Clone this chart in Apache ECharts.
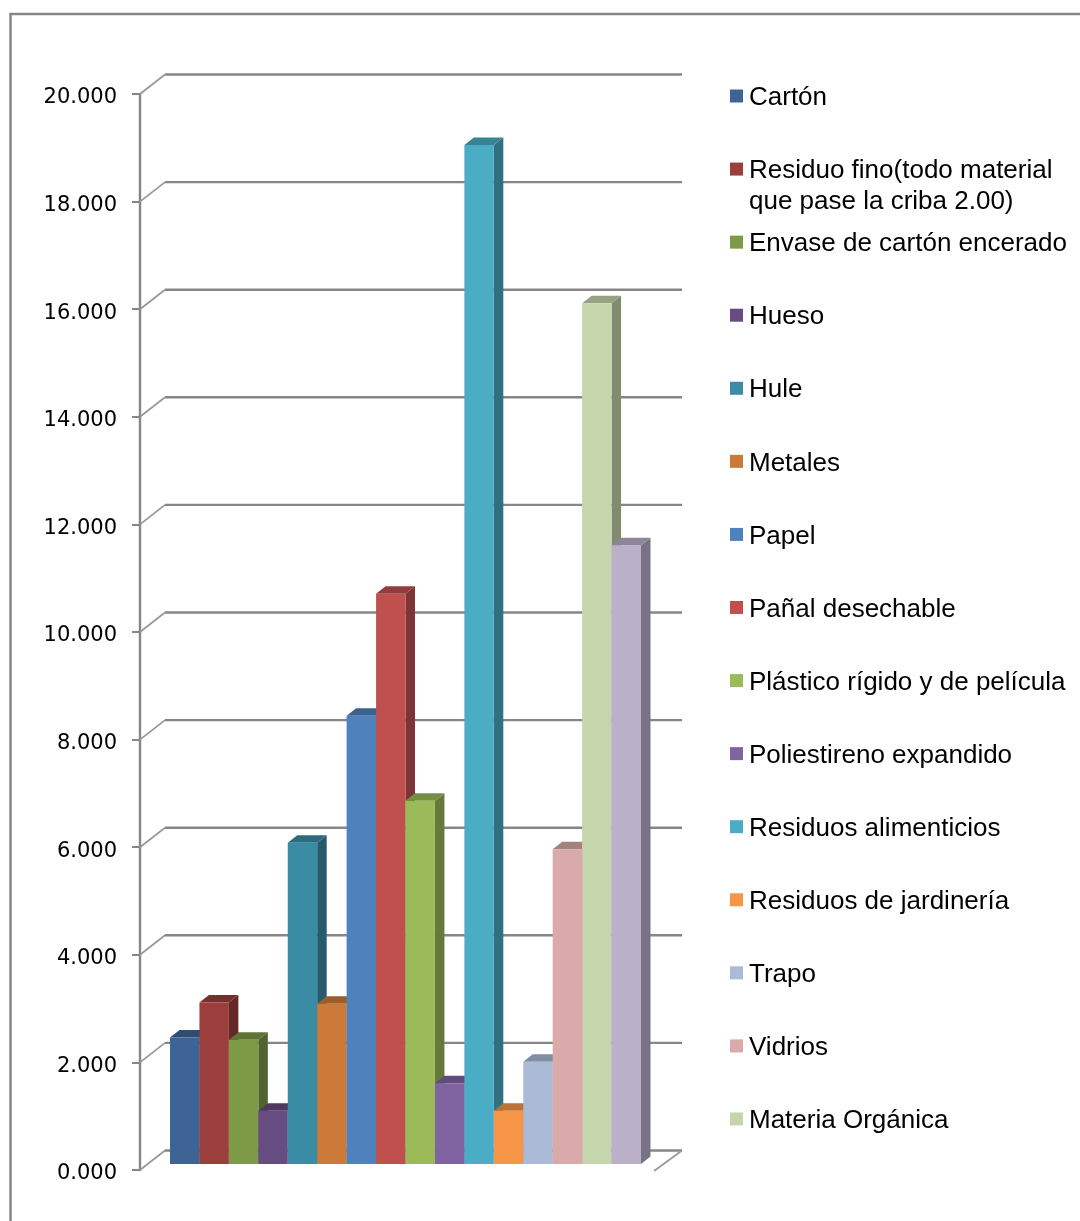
<!DOCTYPE html>
<html><head><meta charset="utf-8">
<style>html,body{margin:0;padding:0;background:#fff}#c{width:1080px;height:1221px}</style>
<script src="https://cdn.jsdelivr.net/npm/echarts@6/dist/echarts.min.js"></script>
</head><body><div id="c"></div>
<script>
const names = ["Cartón","Residuo fino(todo material","Envase de cartón encerado","Hueso","Hule","Metales","Papel","Pañal desechable","Plástico rígido y de película","Poliestireno expandido","Residuos alimenticios","Residuos de jardinería","Trapo","Vidrios","Materia Orgánica","Otros"];
const values = [2.35,3.0,2.31,0.99,5.97,2.98,8.33,10.6,6.75,1.5,18.94,0.99,1.9,5.85,16.0,11.5];
const colors = ["#3E6496","#9C3E3C","#7D9A46","#664C80","#3A8CA4","#CC7A38","#4F81BD","#C0504D","#9BBB59","#8064A2","#4BACC6","#F79646","#AABAD7","#D9AAA9","#C6D6AC","#BAB0C9"];
const yTicks = [0,2,4,6,8,10,12,14,16,18,20];
const category = [""];
const legendNames = names.slice(0,15);
const legendLine2 = "que pase la criba 2.00)";

const GREY="#868686", WALL_X=25, WALL_Y=19.5, FRONT_X=7, FRONT_Y=6, DEPTH_X=9.5, DEPTH_Y=7.5, FILL=0.911;
const FONT_L='"Liberation Sans"', FONT_A='"DejaVu Sans"';

function shade(hex,f){const n=parseInt(hex.slice(1),16);
  return 'rgb('+[(n>>16)&255,(n>>8)&255,n&255].map(c=>Math.round(c*f)).join(',')+')';}

function wall(params,api){
  const v=api.value(0);
  const cs=params.coordSys;
  const p=api.coord([0,v]);
  const x0=cs.x, x1=cs.x+cs.width, y=p[1];
  return {type:'group',silent:true,children:[
    {type:'line',shape:{x1:x0,y1:y,x2:x0+WALL_X,y2:y-WALL_Y},style:{stroke:'#999',lineWidth:1.8}},
    {type:'line',shape:{x1:x0+WALL_X,y1:y-WALL_Y,x2:x1+WALL_X,y2:y-WALL_Y},style:{stroke:GREY,lineWidth:2.4}}
  ]};
}
function floorEdge(params,api){
  const cs=params.coordSys, p=api.coord([0,0]);
  const x1=cs.x+cs.width;
  return {type:'line',silent:true,shape:{x1:x1-3,y1:p[1]+1,x2:x1+WALL_X,y2:p[1]-WALL_Y},style:{stroke:'#999',lineWidth:1.8}};
}
function bar(i){return function(params,api){
  const v=api.value(1), top=api.coord([0,v]), base=api.coord([0,0]);
  const w=api.size([1,0])[0]*FILL/names.length;
  const x=top[0]-w*names.length/2+i*w+FRONT_X, yt=top[1]-FRONT_Y, yb=base[1]-FRONT_Y;
  const c=colors[i];
  return {type:'group',children:[
    {type:'polygon',shape:{points:[[x+w,yb],[x+w+DEPTH_X,yb-DEPTH_Y],[x+w+DEPTH_X,yt-DEPTH_Y],[x+w,yt]]},style:{fill:shade(c,0.65)}},
    {type:'polygon',shape:{points:[[x,yt],[x+DEPTH_X,yt-DEPTH_Y],[x+w+DEPTH_X,yt-DEPTH_Y],[x+w,yt]]},style:{fill:shade(c,0.76)}},
    {type:'rect',shape:{x:x,y:yt,width:w,height:yb-yt},style:{fill:c}}
  ]};
};}

const series=[
  {type:'custom',name:'_wall',coordinateSystem:'cartesian2d',z:1,silent:true,renderItem:wall,
   encode:{y:0},data:yTicks.map(t=>[t]),clip:false},
  {type:'custom',name:'_floor',coordinateSystem:'cartesian2d',z:1,silent:true,renderItem:floorEdge,
   data:[[0,0]],clip:false}
];
names.forEach((n,i)=>series.push({type:'custom',name:n,coordinateSystem:'cartesian2d',z:2+i,
  renderItem:bar(i),itemStyle:{color:colors[i]},encode:{x:0,y:1},data:[[0,values[i]]],clip:false}));

const STEP=73.07, FIRST=96, LH=30;
const legend=legendNames.map((n,i)=>({data:[n],orient:'vertical',left:730,top:FIRST+i*STEP-LH/2,padding:0,
  itemWidth:13,itemHeight:13,icon:'rect',selectedMode:false,
  formatter:'{a|{name}}',
  textStyle:{rich:{a:{fontFamily:FONT_L,fontSize:26,color:'#000',lineHeight:LH,padding:[4,0,0,1]}}}}));

const chart=echarts.init(document.getElementById('c'),null,{renderer:'canvas'});
chart.setOption({
  animation:false,backgroundColor:'#fff',
  color:colors,
  legend:legend,
  grid:{left:140,right:423,top:94,bottom:51,containLabel:false},
  xAxis:{type:'category',data:category,axisLine:{show:false},axisTick:{show:false},axisLabel:{show:false},splitLine:{show:false}},
  yAxis:{type:'value',min:0,max:20,interval:2,
    axisLine:{show:true,lineStyle:{color:GREY,width:2.4}},
    axisTick:{show:true,length:8,lineStyle:{color:GREY,width:2}},
    splitLine:{show:false},
    axisLabel:{margin:23,formatter:v=>'{a|'+v.toFixed(3)+'}',
      rich:{a:{color:'#000',fontFamily:FONT_A,fontSize:21,padding:[8,0,0,0]}}}},
  series:series,
  graphic:[
    {type:'polyline',silent:true,z:0,shape:{points:[[10.5,1221],[10.5,14],[1080,14]]},style:{stroke:GREY,lineWidth:2.5,fill:null}},
    {type:'text',silent:true,left:749,top:189,style:{text:legendLine2,fontFamily:FONT_L,fontSize:26,fill:'#000'}}
  ]
});
</script></body></html>
